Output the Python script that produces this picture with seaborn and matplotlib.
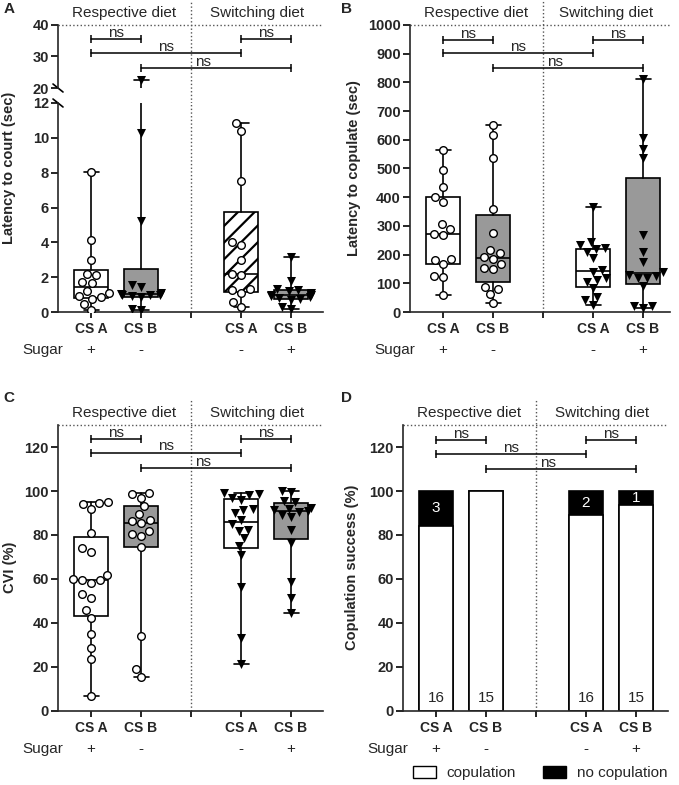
import warnings
import numpy as np
import matplotlib
matplotlib.use('Agg')
import matplotlib.pyplot as plt
from matplotlib.patches import Patch
import seaborn as sns

warnings.filterwarnings('ignore')

# groups, left two = respective diet, right two = switching diet
groups = ['CS A', 'CS B', 'CS A', 'CS B']
sugar = ['+', '-', '-', '+']

# A - latency to court (sec)
court_a_resp = [8.05, 4.15, 3.0, 2.2, 2.1, 1.75, 1.65, 1.2, 1.1, 0.9, 0.85, 0.75, 0.45, 0.1]
court_b_resp = [22.5, 10.3, 5.2, 1.55, 1.45, 1.1, 1.05, 1.0, 1.0, 0.95, 0.9, 0.85, 0.2, 0.1]
court_a_switch = [10.85, 10.4, 7.5, 4.0, 3.85, 3.0, 2.2, 2.1, 1.3, 1.25, 1.1, 0.6, 0.3]
court_b_switch = [3.15, 1.8, 1.3, 1.25, 1.2, 1.1, 1.0, 0.95, 0.9, 0.85, 0.8, 0.75, 0.7, 0.3, 0.15]

# B - latency to copulate (sec)
cop_a_resp = [564, 495, 434, 402, 384, 305, 288, 272, 268, 185, 182, 167, 125, 122, 59]
cop_b_resp = [652, 617, 535, 360, 275, 215, 205, 190, 185, 168, 152, 150, 88, 80, 62, 32]
cop_a_switch = [367, 245, 233, 222, 218, 210, 187, 146, 140, 117, 111, 106, 82, 53, 42, 24]
cop_b_switch = [812, 605, 567, 535, 268, 210, 175, 140, 130, 125, 120, 118, 92, 22, 20, 14]

# C - CVI (%)
cvi_a_resp = [95, 94.5, 94, 92, 81, 74, 72.5, 62, 60, 59.5, 59.5, 58, 53, 51.5, 46, 42.5, 35, 28.5, 23.5, 7]
cvi_b_resp = [99, 98.5, 97, 93, 89.5, 87, 86.5, 85.5, 82, 80.5, 79.5, 74.5, 34, 19, 15.5]
cvi_a_switch = [99, 98.5, 98, 97, 96, 92, 91.5, 90, 87, 85, 82.5, 82, 78.5, 75, 71, 56.5, 33, 21.5]
cvi_b_switch = [100, 99.5, 95.5, 95, 92.5, 92, 91.5, 91, 90.5, 89, 88, 82.5, 76.5, 58.5, 51.5, 44.5]

# D - copulation counts
copulated = [16, 15, 16, 15]
not_copulated = [3, 0, 2, 1]

positions = [0, 1, 3, 4]   # slot 2 is the gap between the diets
GRAY = '#999999'

sns.set_style('ticks')
plt.rcParams['font.family'] = ['Liberation Sans', 'DejaVu Sans']
plt.rcParams['axes.linewidth'] = 1.2
plt.rcParams['hatch.linewidth'] = 1.6
plt.rcParams['xtick.major.width'] = 1.2
plt.rcParams['ytick.major.width'] = 1.2

W, H = 679, 785
fig = plt.figure(figsize=(W / 100, H / 100), dpi=100)


def px_rect(l, t, r, b):
    return [l / W, 1 - b / H, (r - l) / W, (b - t) / H]


def prism_stats(vals):
    v = np.asarray(vals, float)
    q1, med, q3 = np.percentile(v, [25, 50, 75], method='weibull')
    return dict(med=med, q1=q1, q3=q3, whislo=v.min(), whishi=v.max(), fliers=[])


def draw_box(ax, pos, vals, fc, hatch):
    lw = 1.2
    ax.bxp([prism_stats(vals)], positions=[pos], widths=0.68, capwidths=0.3,
           patch_artist=True, showfliers=False, manage_ticks=False, zorder=2,
           boxprops=dict(facecolor=fc, edgecolor='black', linewidth=lw, hatch=hatch),
           medianprops=dict(color='black', linewidth=lw),
           whiskerprops=dict(color='black', linewidth=lw),
           capprops=dict(color='black', linewidth=lw))


def draw_points(ax, pos, vals, marker):
    if marker == 'o':
        sns.swarmplot(x=[pos] * len(vals), y=vals, native_scale=True, orient='x', ax=ax,
                      marker='o', color='white', edgecolor='black', linewidth=1,
                      size=5.5, zorder=3)
    else:
        sns.swarmplot(x=[pos] * len(vals), y=vals, native_scale=True, orient='x', ax=ax,
                      marker='v', color='black', linewidth=0, size=6.5, zorder=3)


def style_axes(ax, width_px, show_x=True):
    ax.set_xlim(-0.66, -0.66 + width_px / 50)
    sns.despine(ax=ax)
    ax.tick_params(axis='y', length=5, pad=1.5, labelsize=10.5, color='black')
    if show_x:
        ax.set_xticks([0, 1, 2, 3, 4])
        ax.set_xticklabels([groups[0], groups[1], '', groups[2], groups[3]])
        ax.tick_params(axis='x', length=4, pad=3, labelsize=10, color='black')
        plt.setp(ax.get_xticklabels(), fontweight='bold')
        for pos, s in zip(positions, sugar):
            ax.annotate(s, xy=(pos, 0), xycoords=('data', 'axes fraction'),
                        xytext=(0, -27.5), textcoords='offset points',
                        ha='center', va='center', fontsize=11)
        ax.annotate('Sugar', xy=(-0.96, 0), xycoords=('data', 'axes fraction'),
                    xytext=(0, -27.5), textcoords='offset points',
                    ha='center', va='center', fontsize=11)
    plt.setp(ax.get_yticklabels(), fontweight='bold')
    ax.set_xlabel('')
    ax.set_ylabel('')


def top_decor(ax, ytop, vline_above):
    ax.axhline(ytop, color='#555555', ls=':', lw=1, clip_on=False)
    ax.axvline(2, ymin=0, ymax=1 + vline_above, color='#555555', ls=':', lw=1, clip_on=False)
    for xc, lab in [(0.67, 'Respective diet'), (None, 'Switching diet')]:
        if xc is None:
            xc = (2 + ax.get_xlim()[1]) / 2
        ax.annotate(lab, xy=(xc, 1), xycoords=('data', 'axes fraction'),
                    xytext=(0, 9), textcoords='offset points',
                    ha='center', va='center', fontsize=11)


def brackets(ax, ys):
    pairs = [(0, 1), (0, 3), (1, 4), (3, 4)]
    heights = [ys[0], ys[1], ys[2], ys[0]]
    text_x = [0.5, 1.5, 2.25, 3.5]
    for (x1, x2), y, tx in zip(pairs, heights, text_x):
        ax.plot([x1, x2], [y, y], color='black', lw=1.1, clip_on=False, zorder=4)
        ax.plot([x1, x2], [y, y], ls='', marker='|', ms=6, mew=1.1, color='black',
                clip_on=False, zorder=4)
        ax.annotate('ns', xy=(tx, y), xytext=(0, 1.5), textcoords='offset points',
                    ha='center', va='baseline', fontsize=11)


# ---------------- panel A (broken axis) ----------------
axA_top = fig.add_axes(px_rect(58, 25, 323, 88))
axA = fig.add_axes(px_rect(58, 103, 323, 312))
court = [court_a_resp, court_b_resp, court_a_switch, court_b_switch]
fills = ['white', GRAY, 'white', GRAY]
hatchA = [None, None, '//', None]
markA = ['o', 'v', 'o', 'v']
for pos, vals, fc, ht, mk in zip(positions, court, fills, hatchA, markA):
    draw_box(axA, pos, vals, fc, ht)
    draw_points(axA, pos, vals, mk)
    draw_box(axA_top, pos, vals, fc, ht)
    high = [v for v in vals if v >= 20]
    if high:
        draw_points(axA_top, pos, high, mk)
axA.set_ylim(0, 12)
axA.set_yticks(range(0, 13, 2))
axA_top.set_ylim(20, 40)
axA_top.set_yticks([20, 30, 40])
style_axes(axA, 265)
style_axes(axA_top, 265, show_x=False)
axA_top.spines['bottom'].set_visible(False)
axA_top.set_xticks([])
axA.axvline(2, color='#555555', ls=':', lw=1)
axA_top.axhline(40, color='#555555', ls=':', lw=1, clip_on=False)
axA_top.axvline(2, ymin=-15 / 63, ymax=1 + 25 / 63, color='#555555', ls=':', lw=1, clip_on=False)
for lab, xc in [('Respective diet', 0.67), ('Switching diet', (2 + axA_top.get_xlim()[1]) / 2)]:
    axA_top.annotate(lab, xy=(xc, 1), xycoords=('data', 'axes fraction'),
                     xytext=(0, 9), textcoords='offset points',
                     ha='center', va='center', fontsize=11)
brackets(axA_top, [35.5, 31.1, 26.3])
# break marks on the y spine
dx = 5 / 265
axA_top.plot([-dx, dx], [4 / 63, -4 / 63], transform=axA_top.transAxes,
             color='black', lw=1.2, clip_on=False)
axA.plot([-dx, dx], [1 + 4 / 209, 1 - 4 / 209], transform=axA.transAxes,
         color='black', lw=1.2, clip_on=False)

# ---------------- panel B ----------------
axB = fig.add_axes(px_rect(410, 25, 670, 312))
cop = [cop_a_resp, cop_b_resp, cop_a_switch, cop_b_switch]
markBC = ['o', 'o', 'v', 'v']
for pos, vals, fc, mk in zip(positions, cop, fills, markBC):
    draw_box(axB, pos, vals, fc, None)
    draw_points(axB, pos, vals, mk)
axB.set_ylim(0, 1000)
axB.set_yticks(range(0, 1001, 100))
style_axes(axB, 260)
top_decor(axB, 1000, 25 / 287)
brackets(axB, [948, 903, 849])

# ---------------- panel C ----------------
axC = fig.add_axes(px_rect(58, 425, 323, 711))
cvi = [cvi_a_resp, cvi_b_resp, cvi_a_switch, cvi_b_switch]
for pos, vals, fc, mk in zip(positions, cvi, fills, markBC):
    draw_box(axC, pos, vals, fc, None)
    draw_points(axC, pos, vals, mk)
axC.set_ylim(0, 130)
axC.set_yticks(range(0, 121, 20))
style_axes(axC, 265)
top_decor(axC, 130, 25 / 286)
brackets(axC, [123.5, 117.5, 110.5])

# ---------------- panel D ----------------
axD = fig.add_axes(px_rect(403, 425, 668, 711))
total = np.array(copulated) + np.array(not_copulated)
cop_pct = np.array(copulated) / total * 100
all_pct = total / total * 100
sns.barplot(x=positions, y=all_pct, native_scale=True, orient='x', ax=axD, color='black',
            saturation=1, edgecolor='black', linewidth=1.2, width=0.68, errorbar=None)
sns.barplot(x=positions, y=cop_pct, native_scale=True, orient='x', ax=axD, color='white',
            saturation=1, edgecolor='black', linewidth=1.2, width=0.68, errorbar=None)
for pos, c, n, p in zip(positions, copulated, not_copulated, cop_pct):
    axD.text(pos, 6, str(c), ha='center', va='center', fontsize=11)
    if n > 0:
        axD.text(pos, (p + 100) / 2, str(n), ha='center', va='center', fontsize=11, color='white')
axD.set_ylim(0, 130)
axD.set_yticks(range(0, 121, 20))
style_axes(axD, 265)
top_decor(axD, 130, 25 / 286)
brackets(axD, [123, 117, 110])
fig.legend(handles=[Patch(facecolor='white', edgecolor='black', linewidth=1),
                    Patch(facecolor='black', edgecolor='black')],
           labels=['copulation', 'no copulation'], loc='center',
           bbox_to_anchor=(540 / W, 1 - 773 / H), ncol=2, frameon=False, fontsize=11,
           handlelength=1.5, handleheight=0.8, handletextpad=0.7, columnspacing=1.8)

# ---------------- labels ----------------
for x, y, lab in [(9, 168, 'Latency to court (sec)'), (354, 168, 'Latency to copulate (sec)'),
                  (10, 567, 'CVI (%)'), (352, 567, 'Copulation success (%)')]:
    fig.text(x / W, 1 - y / H, lab, rotation=90, ha='center', va='center',
             fontsize=10.5, fontweight='bold')
for x, y, lab in [(9, 9, 'A'), (347, 9, 'B'), (9, 398, 'C'), (347, 398, 'D')]:
    fig.text(x / W, 1 - y / H, lab, ha='center', va='center', fontsize=11, fontweight='bold')

fig.savefig('out.png', dpi=100)
